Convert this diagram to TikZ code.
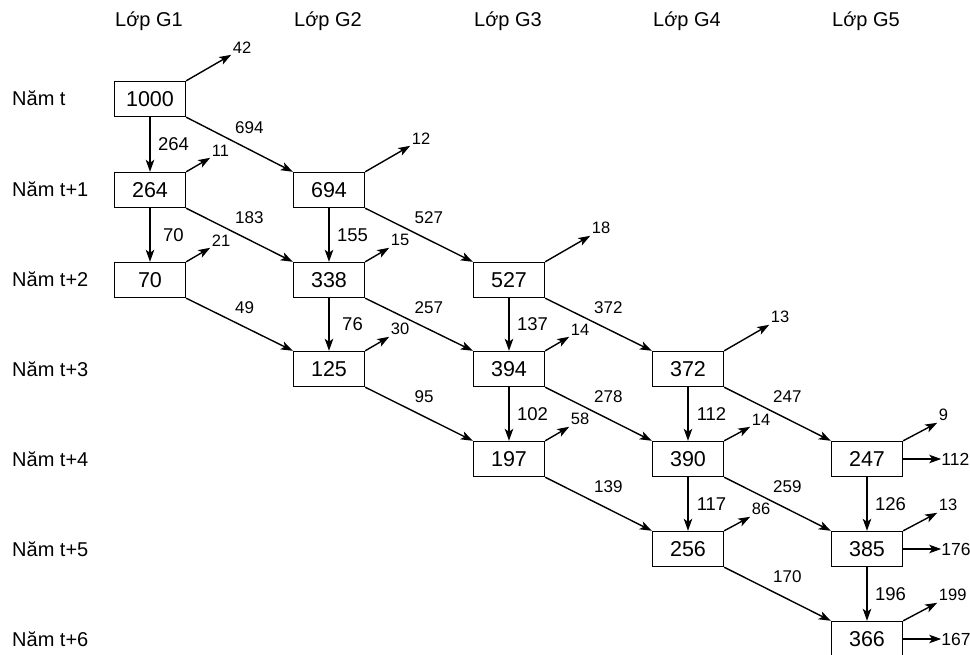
\documentclass[tikz,border=0pt]{standalone}
\usepackage{fontspec}
\setmainfont{Liberation Sans}
\usetikzlibrary{arrows.meta,positioning}

\begin{document}
\begin{tikzpicture}[
  x=1pt,
  y=-1pt,
  line/.style={-{Stealth[length=12pt,width=8.5pt,inset=3pt]}, line width=1.4pt},
  cell/.style={
    draw,
    line width=1.4pt,
    minimum width=71pt,
    minimum height=35pt,
    inner sep=0pt,
    font=\fontsize{21.5}{24}\selectfont
  },
  head/.style={anchor=base, font=\fontsize{20}{24}\selectfont},
  year/.style={anchor=base west, inner sep=0pt, font=\fontsize{20}{24}\selectfont},
  vlab/.style={midway, xshift=23.5pt, inner sep=0pt, font=\fontsize{18.5}{22}\selectfont},
  dlab/.style={midway, anchor=south west, xshift=-5pt, yshift=10.5pt, inner sep=0pt, font=\fontsize{17}{20}\selectfont},
  olab/.style={inner sep=1.5pt, font=\fontsize{16.5}{20}\selectfont},
  hlab/.style={inner sep=0pt, font=\fontsize{17.5}{20}\selectfont}
]
\useasboundingbox (0,0) rectangle (970,655);

% headers
\node[head] (hG1) at (149,27) {Lớp G1};
\node[head] (hG2) at (328,27) {Lớp G2};
\node[head] (hG3) at (508,27) {Lớp G3};
\node[head] (hG4) at (687,27) {Lớp G4};
\node[head] (hG5) at (866,27) {Lớp G5};

\node[year] (yr0) at (12,106) {Năm t};
\node[year] (yr1) at (12,197) {Năm t+1};
\node[year] (yr2) at (12,287) {Năm t+2};
\node[year] (yr3) at (12,376) {Năm t+3};
\node[year] (yr4) at (12,466) {Năm t+4};
\node[year] (yr5) at (12,556) {Năm t+5};
\node[year] (yr6) at (12,646) {Năm t+6};

% boxes
\node[cell] (c1y0) at (150,99)  {1000};
\node[cell] (c1y1) at (150,190) {264};
\node[cell] (c1y2) at (150,280) {70};
\node[cell] (c2y1) at (329,190) {694};
\node[cell] (c2y2) at (329,280) {338};
\node[cell] (c2y3) at (329,369) {125};
\node[cell] (c3y2) at (509,280) {527};
\node[cell] (c3y3) at (509,369) {394};
\node[cell] (c3y4) at (509,459) {197};
\node[cell] (c4y3) at (688,369) {372};
\node[cell] (c4y4) at (688,459) {390};
\node[cell] (c4y5) at (688,549) {256};
\node[cell] (c5y4) at (867,459) {247};
\node[cell] (c5y5) at (867,549) {385};
\node[cell] (c5y6) at (867,639) {366};

% staying in class
\draw[line] (c1y0) -- node[vlab] {264} (c1y1);
\draw[line] (c1y1) -- node[vlab] {70} (c1y2);
\draw[line] (c2y1) -- node[vlab] {155} (c2y2);
\draw[line] (c2y2) -- node[vlab] {76} (c2y3);
\draw[line] (c3y2) -- node[vlab] {137} (c3y3);
\draw[line] (c3y3) -- node[vlab] {102} (c3y4);
\draw[line] (c4y3) -- node[vlab] {112} (c4y4);
\draw[line] (c4y4) -- node[vlab] {117} (c4y5);
\draw[line] (c5y4) -- node[vlab] {126} (c5y5);
\draw[line] (c5y5) -- node[vlab] {196} (c5y6);

% moving up
\draw[line] (c1y0.south east) -- node[dlab] {694} (c2y1.north west);
\draw[line] (c1y1.south east) -- node[dlab] {183} (c2y2.north west);
\draw[line] (c1y2.south east) -- node[dlab] {49} (c2y3.north west);
\draw[line] (c2y1.south east) -- node[dlab] {527} (c3y2.north west);
\draw[line] (c2y2.south east) -- node[dlab] {257} (c3y3.north west);
\draw[line] (c2y3.south east) -- node[dlab] {95} (c3y4.north west);
\draw[line] (c3y2.south east) -- node[dlab] {372} (c4y3.north west);
\draw[line] (c3y3.south east) -- node[dlab] {278} (c4y4.north west);
\draw[line] (c3y4.south east) -- node[dlab] {139} (c4y5.north west);
\draw[line] (c4y3.south east) -- node[dlab] {247} (c5y4.north west);
\draw[line] (c4y4.south east) -- node[dlab] {259} (c5y5.north west);
\draw[line] (c4y5.south east) -- node[dlab] {170} (c5y6.north west);

% drop-outs
\node[olab, above right=26pt and 45pt of c1y0.north east] (o1y0) {42};
\node[olab, above right=14pt and 24pt of c1y1.north east] (o1y1) {11};
\node[olab, above right=14pt and 24pt of c1y2.north east] (o1y2) {21};
\node[olab, above right=26pt and 45pt of c2y1.north east] (o2y1) {12};
\node[olab, above right=14pt and 24pt of c2y2.north east] (o2y2) {15};
\node[olab, above right=14pt and 24pt of c2y3.north east] (o2y3) {30};
\node[olab, above right=26pt and 45pt of c3y2.north east] (o3y2) {18};
\node[olab, above right=14pt and 24pt of c3y3.north east] (o3y3) {14};
\node[olab, above right=14pt and 24pt of c3y4.north east] (o3y4) {58};
\node[olab, above right=26pt and 45pt of c4y3.north east] (o4y3) {13};
\node[olab, above right=14pt and 26pt of c4y4.north east] (o4y4) {14};
\node[olab, above right=14pt and 26pt of c4y5.north east] (o4y5) {86};
\node[olab, above right=18pt and 34pt of c5y4.north east] (o5y4) {9};
\node[olab, above right=18pt and 34pt of c5y5.north east] (o5y5) {13};
\node[olab, above right=18pt and 34pt of c5y6.north east] (o5y6) {199};

\draw[line] (c1y0.north east) -- (o1y0.south west);
\draw[line] (c1y1.north east) -- (o1y1.south west);
\draw[line] (c1y2.north east) -- (o1y2.south west);
\draw[line] (c2y1.north east) -- (o2y1.south west);
\draw[line] (c2y2.north east) -- (o2y2.south west);
\draw[line] (c2y3.north east) -- (o2y3.south west);
\draw[line] (c3y2.north east) -- (o3y2.south west);
\draw[line] (c3y3.north east) -- (o3y3.south west);
\draw[line] (c3y4.north east) -- (o3y4.south west);
\draw[line] (c4y3.north east) -- (o4y3.south west);
\draw[line] (c4y4.north east) -- (o4y4.south west);
\draw[line] (c4y5.north east) -- (o4y5.south west);
\draw[line] (c5y4.north east) -- (o5y4.south west);
\draw[line] (c5y5.north east) -- (o5y5.south west);
\draw[line] (c5y6.north east) -- (o5y6.south west);

% graduates
\node[hlab, right=38pt of c5y4] (g5y4) {112};
\node[hlab, right=38pt of c5y5] (g5y5) {176};
\node[hlab, right=38pt of c5y6] (g5y6) {167};

\draw[line] (c5y4) -- (g5y4);
\draw[line] (c5y5) -- (g5y5);
\draw[line] (c5y6) -- (g5y6);
\end{tikzpicture}
\end{document}
